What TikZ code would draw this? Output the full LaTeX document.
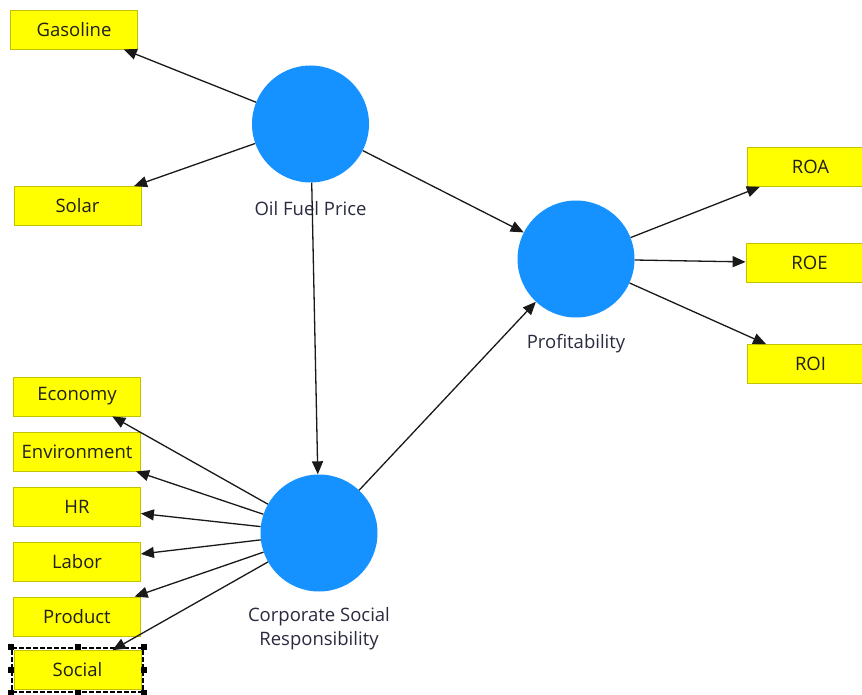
\documentclass[tikz,border=0pt]{standalone}
\usepackage{fontspec}
\setmainfont{Open Sans}
\usepackage{tikz}
\usetikzlibrary{shapes.geometric, arrows.meta, positioning}
\definecolor{latblue}{HTML}{1592FF}
\definecolor{indyellow}{HTML}{FFFF00}
\definecolor{indedge}{HTML}{C2C200}
\definecolor{labelink}{HTML}{2B2B40}
\tikzset{
  lat/.style={circle, fill=latblue, draw=none, minimum size=117pt, inner sep=0pt},
  ind/.style={rectangle, fill=indyellow, draw=indedge, line width=0.8pt,
    minimum width=127pt, minimum height=39pt, inner sep=0pt,
    font=\fontsize{18.5}{22}\selectfont, text=black!88},
  lb/.style={font=\fontsize{18.5}{24}\selectfont, text=labelink, align=center, inner sep=0pt},
  ar/.style={-{Triangle[length=13pt,width=11pt]}, draw=black!90, line width=1.3pt},
  selbox/.style={rectangle, draw=black, dash pattern=on 5pt off 2pt, line width=1.3pt,
    minimum width=131pt, minimum height=44pt, inner sep=0pt},
}

\begin{document}
\begin{tikzpicture}[x=1pt, y=-1pt]

\clip (0,0) rectangle (862,695);
\fill[white] (0,0) rectangle (862,695);

\node[lat] (OFP)  at (310.5,124) {};
\node[lb]  (OFPl) at (310.5,209) {Oil Fuel Price};

\node[lat] (PRF)  at (576,259) {};
\node[lb]  (PRFl) at (576,344) {Profitability};

\node[lat] (CSR)  at (319,533) {};
\node[lb]  (CSRl) at (319,629) {Corporate Social\\Responsibility};

\node[ind] (Gas) at (74,29.5) {Gasoline};
\node[ind] (Sol) at (77.5,206) {Solar};

\node[ind] (ROA) at (810.5,167) {ROA};
\node[ind] (ROE) at (809.5,263) {ROE};
\node[ind] (ROI) at (810.5,364) {ROI};

\node[ind] (Eco) at (77,396.5) {Economy};
\node[ind] (Env) at (77,451.5) {Environment};
\node[ind] (HR)  at (77,506.5) {HR};
\node[ind] (Lab) at (77,561.5) {Labor};
\node[ind] (Pro) at (77,616.5) {Product};
\node[ind] (Soc) at (77.5,670) {Social};

\node[selbox] (SocSel) at (Soc) {};
\foreach \a in {north west, north, north east, east, south east, south, south west, west}
  \fill[black] (SocSel.\a) +(-3,-3) rectangle +(3,3);

\draw[ar] (OFP) -- (Gas);
\draw[ar] (OFP) -- (Sol);
\draw[ar] (OFP) -- (PRF);
\draw[ar] (OFP) -- (CSR);
\draw[ar] (CSR) -- (PRF);

\draw[ar] (PRF) -- (ROA);
\draw[ar] (PRF) -- (ROE);
\draw[ar] (PRF) -- (ROI);

\foreach \t in {Eco, Env, HR, Lab, Pro, Soc}
  \draw[ar] (CSR) -- (\t);

\end{tikzpicture}
\end{document}
